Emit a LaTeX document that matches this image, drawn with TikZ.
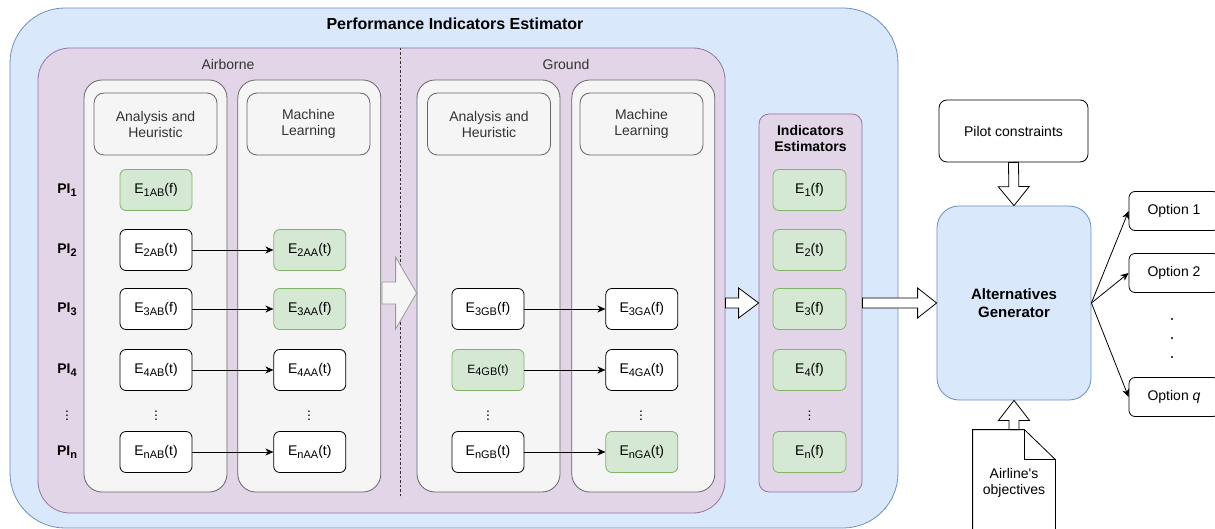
\documentclass[tikz,border=0pt]{standalone}
\usepackage{fontspec}
\setmainfont{Liberation Sans}
\usetikzlibrary{positioning,calc,arrows.meta}
\definecolor{pieblue}{HTML}{DAE8FC}
\definecolor{pieline}{HTML}{6C8EBF}
\definecolor{phasefill}{HTML}{E1D5E7}
\definecolor{phaseline}{HTML}{9673A6}
\definecolor{colfill}{HTML}{F5F5F5}
\definecolor{colline}{HTML}{666666}
\definecolor{coltext}{HTML}{333333}
\definecolor{estgreen}{HTML}{D5E8D4}
\definecolor{estline}{HTML}{82B366}
\newcommand{\esub}[1]{\raisebox{-0.35ex}{\fontsize{11}{11}\selectfont#1}}
\newcommand{\est}[2]{E\esub{#1}(#2)}
\newcommand{\fatarrow}[6]{% style, from, to, shaft half, head half, head length
  \coordinate (fa) at ($(#3)!#6!(#2)$);
  \draw[#1] ($(#2)!#4!90:(#3)$) -- ($(fa)!#4!90:(#3)$) -- ($(fa)!#5!90:(#3)$) -- (#3)
    -- ($(fa)!#5!-90:(#3)$) -- ($(fa)!#4!-90:(#3)$) -- ($(#2)!#4!-90:(#3)$) -- cycle;
}
\tikzset{
  outer box/.style={
    fill=pieblue,
    draw=pieline,
    rounded corners=55pt,
    minimum width=888pt,
    minimum height=520pt,
  },
  phase box/.style={
    fill=phasefill,
    draw=phaseline,
    rounded corners=32pt,
    minimum width=687pt,
    minimum height=465pt,
  },
  phase label/.style={
    text=coltext,
  },
  column/.style={
    fill=colfill,
    draw=colline,
    rounded corners=18pt,
    minimum width=143pt,
    minimum height=412pt,
  },
  head box/.style={
    fill=colfill,
    draw=colline,
    text=coltext,
    rounded corners=10pt,
    minimum width=123pt,
    minimum height=62pt,
    align=center,
  },
  est/.style={
    draw,
    fill=white,
    rounded corners=6pt,
    minimum width=72pt,
    minimum height=41pt,
    inner sep=0pt,
  },
  green est/.style={
    est,
    fill=estgreen,
    draw=estline,
  },
  pi label/.style={
    font=\bfseries\fontsize{14}{16}\selectfont,
  },
  split line/.style={
    draw=coltext,
    dash pattern=on 2.5pt off 2pt,
  },
  link/.style={
    -{Stealth[length=8pt,width=7pt,inset=2.5pt]},
  },
  gray arrow/.style={
    fill=colfill,
    draw=gray!80,
  },
  block arrow/.style={
    fill=white,
    draw=black,
  },
  ie box/.style={
    fill=phasefill,
    draw=phaseline,
    rounded corners=10pt,
    minimum width=103pt,
    minimum height=378pt,
  },
  gen box/.style={
    fill=pieblue,
    draw=pieline,
    rounded corners=22pt,
    minimum width=154pt,
    minimum height=194pt,
    align=center,
    font=\bfseries\fontsize{15}{18.5}\selectfont,
  },
  plain box/.style={
    draw,
    fill=white,
    rounded corners=8pt,
    minimum width=149pt,
    minimum height=62pt,
  },
  option/.style={
    draw,
    fill=white,
    rounded corners=6pt,
    minimum width=90pt,
    minimum height=39pt,
  },
}

\begin{document}
\begin{tikzpicture}[x=1pt, y=-1pt, node distance=81pt,
    font=\fontsize{14}{16}\selectfont, line width=0.8pt]
  \useasboundingbox (0,0) rectangle (1215,529);

  % estimator frame
  \node [outer box] (pie) at (454,268) {};
  \node [font=\bfseries\fontsize{16}{18}\selectfont] (pietitle) at (455,24) {Performance Indicators Estimator};
  \node [phase box] (phases) at (381.5,280.5) {};
  \node [phase label] (air) at (228,64) {Airborne};
  \node [phase label] (grd) at (566,64) {Ground};
  \draw [split line] (400,48) -- (400,498);

  \node [column] (abcol) at (155.5,286) {};
  \node [column, right=10pt of abcol] (aacol) {};
  \node [column] (gbcol) at (488.5,286) {};
  \node [column, right=11pt of gbcol] (gacol) {};

  \node [head box] (abhead) at (155.5,124) {Analysis and\\Heuristic};
  \node [head box] (aahead) at (308.5,124) {Machine\\Learning};
  \node [head box] (gbhead) at (489,124) {Analysis and\\Heuristic};
  \node [head box] (gahead) at (641.5,124) {Machine\\Learning};

  \foreach \r/\y in {1/190,2/250,3/309,4/370,n/452}
    \node [pi label] (pi\r) at (67,\y) {PI\esub{\r}};
  \node (pidots) at (67,413) {$\vdots$};

  % airborne
  \node [green est] (ab1) at (156,190) {\est{1AB}{f}};
  \node [est] (ab2) at (156,250) {\est{2AB}{t}};
  \node [green est, right=of ab2] (aa2) {\est{2AA}{t}};
  \node [est] (ab3) at (156,309) {\est{3AB}{f}};
  \node [green est, right=of ab3] (aa3) {\est{3AA}{f}};
  \node [est] (ab4) at (156,370) {\est{4AB}{t}};
  \node [est, right=of ab4] (aa4) {\est{4AA}{t}};
  \node [est] (abn) at (156,452) {\est{nAB}{t}};
  \node [est, right=of abn] (aan) {\est{nAA}{t}};
  \node (abdots) at (156,413) {$\vdots$};
  \node (aadots) at (309,413) {$\vdots$};

  % ground
  \node [est] (gb3) at (488,309) {\est{3GB}{f}};
  \node [est, right=of gb3] (ga3) {\est{3GA}{f}};
  \node [green est, font=\fontsize{12}{14}\selectfont] (gb4) at (488,370) {\est{4GB}{t}};
  \node [est, right=of gb4] (ga4) {\est{4GA}{t}};
  \node [est] (gbn) at (488,452) {\est{nGB}{t}};
  \node [green est, right=of gbn] (gan) {\est{nGA}{t}};
  \node (gbdots) at (488,413) {$\vdots$};
  \node (gadots) at (641,413) {$\vdots$};

  \foreach \r in {2,3,4,n}
    \draw [link] (ab\r) -- (aa\r);
  \foreach \r in {3,4,n}
    \draw [link] (gb\r) -- (ga\r);

  \coordinate (handover) at (382,293);
  \coordinate (handovertip) at (gbcol.west |- handover);
  \fatarrow{gray arrow}{handover}{handovertip}{11pt}{36pt}{21pt}

  % indicators
  \node [ie box] (ie) at (810.5,303) {};
  \node [font=\bfseries\fontsize{14}{16}\selectfont, align=center] (ietitle) at (810.5,138) {Indicators\\Estimators};
  \foreach \r/\v/\y in {1/f/190,2/t/250,3/f/309,4/f/370,n/f/452}
    \node [green est, minimum width=73pt] (ie\r) at (809.5,\y) {\est{\r}{\v}};
  \node (iedots) at (809.5,413) {$\vdots$};

  % generator
  \node [gen box] (ag) at (1014,303) {Alternatives\\Generator};
  \node [plain box] (pilot) at (1013.5,131) {Pilot constraints};
  \node [align=center, minimum width=82pt, minimum height=105pt] (doc) at (1014,482.5) {Airline\textquotesingle s\\objectives};
  \draw (doc.south west) -- (doc.north west) -- ($(doc.north east)+(-31,0)$)
    -- ($(doc.north east)+(0,30)$) -- (doc.south east);
  \draw ($(doc.north east)+(-31,0)$) -- ++(0,30) -- ++(31,0);

  \coordinate (phaseout) at (phases.east |- ie);
  \fatarrow{block arrow}{phaseout}{ie.west}{5pt}{15pt}{20pt}
  \fatarrow{block arrow}{ie.east}{ag.west}{5pt}{15pt}{19pt}
  \fatarrow{block arrow}{pilot.south}{ag.north}{5pt}{15.5pt}{19pt}
  \fatarrow{block arrow}{doc.north}{ag.south}{5pt}{15.5pt}{20pt}

  % options
  \node [option] (opt1) at (1174,211) {Option 1};
  \node [option] (opt2) at (1174,273) {Option 2};
  \node [option] (optq) at (1174,397) {Option \textit{q}};
  \foreach \y in {319,338,357}
    \fill (1172,\y) circle (1.1pt);
  \foreach \o in {opt1,opt2,optq}
    \draw [link] (ag.east) -- (\o.west);
\end{tikzpicture}
\end{document}
